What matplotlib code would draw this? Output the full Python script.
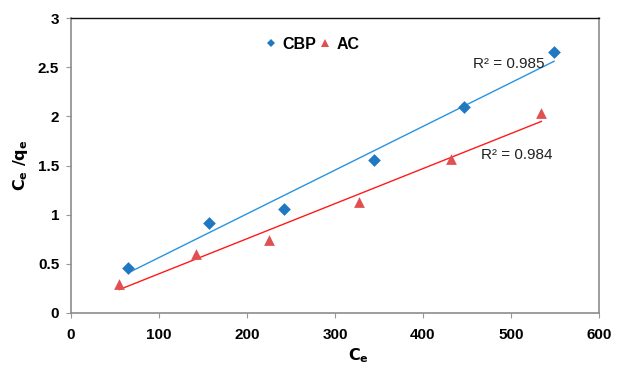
import numpy as np
import matplotlib
matplotlib.use("Agg")
import matplotlib.pyplot as plt
from matplotlib.lines import Line2D

plt.rcParams['font.family'] = ['Liberation Sans', 'DejaVu Sans']

# Langmuir linear form data: Ce vs Ce/qe
ce_cbp = [64.8, 156.8, 242.4, 344.0, 446.6, 548.9]
ratio_cbp = [0.458, 0.912, 1.058, 1.556, 2.10, 2.65]
ce_ac = [54.9, 142.0, 224.6, 327.7, 431.4, 534.5]
ratio_ac = [0.30, 0.60, 0.74, 1.13, 1.57, 2.03]
r2_labels = ["R² = 0.985", "R² = 0.984"]

x_ticks = [0, 100, 200, 300, 400, 500, 600]
y_ticks = [0, 0.5, 1, 1.5, 2, 2.5, 3]

blue_mk, blue_ln = '#1f78c1', '#2a93e0'
red_mk, red_ln = '#e05050', '#ff1a1a'

fig = plt.figure(figsize=(6.19, 3.67), dpi=100)
ax = fig.add_axes([71/619, 1 - 313/367, (599-71)/619, (313-18)/367])

def fit_line(x, y):
    x = np.asarray(x); y = np.asarray(y)
    m, b = np.polyfit(x, y, 1)
    xs = np.array([x.min(), x.max()])
    return xs, m * xs + b

xs, ys = fit_line(ce_cbp, ratio_cbp)
ax.plot(xs, ys, color=blue_ln, lw=1.0, zorder=2)
xs, ys = fit_line(ce_ac, ratio_ac)
ax.plot(xs, ys, color=red_ln, lw=1.0, zorder=2)

ax.scatter(ce_cbp, ratio_cbp, marker='D', s=42, color=blue_mk, zorder=3, linewidths=0)
ax.scatter(ce_ac, ratio_ac, marker='^', s=60, color=red_mk, zorder=3, linewidths=0)

ax.text(497, 2.535, r2_labels[0], fontsize=11, color='#222222', ha='center', va='center')
ax.text(507, 1.61, r2_labels[1], fontsize=11, color='#222222', ha='center', va='center')

ax.set_xlim(0, 600)
ax.set_ylim(0, 3)
ax.set_xticks(x_ticks)
ax.set_yticks(y_ticks)
ax.set_xticklabels([str(v) for v in x_ticks])
ax.set_yticklabels(['0', '0.5', '1', '1.5', '2', '2.5', '3'])
for lab in ax.get_xticklabels() + ax.get_yticklabels():
    lab.set_fontweight('bold')
    lab.set_fontsize(11)
ax.tick_params(axis='both', direction='out', length=3.5, width=0.8, color='#999999')
ax.tick_params(axis='y', pad=5)
ax.tick_params(axis='x', pad=7)

for side in ['left', 'bottom', 'right']:
    ax.spines[side].set_color('#8c8c8c')
    ax.spines[side].set_linewidth(1.2)
ax.spines['top'].set_color('#111111')
ax.spines['top'].set_linewidth(1.0)

handles = [Line2D([], [], marker='D', ls='none', color=blue_mk, markersize=4.5, markeredgewidth=0),
           Line2D([], [], marker='^', ls='none', color=red_mk, markersize=5.5, markeredgewidth=0)]
leg = ax.legend(handles, ['CBP', 'AC'], loc='upper center', bbox_to_anchor=(0.458, 0.985),
                ncol=2, frameon=False, handlelength=0.6, handletextpad=0.4, columnspacing=0.3,
                prop={'weight': 'bold', 'size': 11.5})

fig.text(20/619, 1 - 165/367, r'$\mathbf{C_e\ /q_e}$', rotation=90, ha='center', va='center',
         fontsize=11.5)
fig.text(358/619, 2/367, r'$\mathbf{C_e}$', ha='center', va='bottom', fontsize=11.5)

fig.savefig('out.png', dpi=100)
